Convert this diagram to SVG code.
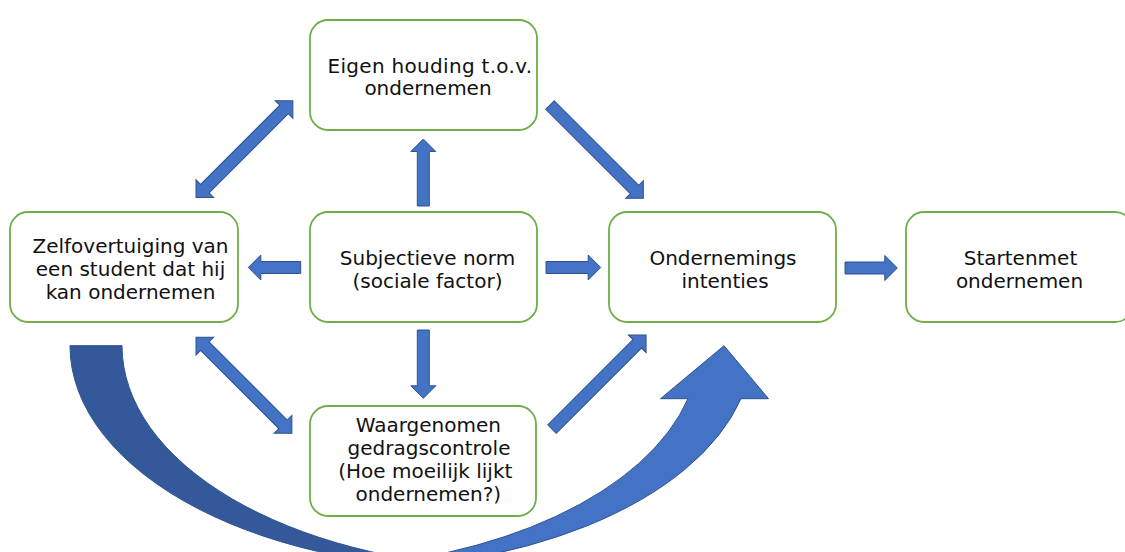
<svg xmlns="http://www.w3.org/2000/svg" width="1125" height="552" viewBox="0 0 1125 552">
<style>
.box{fill:#fff;stroke:#70AD47;stroke-width:1.8}
.lbl{font-family:"DejaVu Sans","Liberation Sans",sans-serif;font-size:20px;fill:#111;text-anchor:middle}
.arw{fill:#4472C4;stroke:#2F528F;stroke-width:1}
.dark{fill:#34599A;stroke:#2F528F;stroke-width:1}
</style>
<rect width="1125" height="552" fill="#fff"/>
<g id="connectors">
<path class="dark" d="M70,345.7 A403,223 0 0 0 499,568.2 A403,223 0 0 1 122,345.7 Z"/>
<path class="arw" d="M323.5,568.2 A403,223 0 0 0 741,398.7 L768.5,398.7 L724,345.7 L660.5,398.7 L688,398.7 A403,223 0 0 1 323.5,568.2 Z"/>
<path class="arw" transform="translate(196,197.5) rotate(-45)" d="M0,0 L12.5,-12.5 V-6 H124.5 V-12.5 L137,0 L124.5,12.5 V6 H12.5 V12.5 Z"/>
<path class="arw" transform="translate(550,105) rotate(45)" d="M0,-6 H119.5 V-12.5 L132,0 L119.5,12.5 V6 H0 Z"/>
<path class="arw" transform="translate(423.3,206) rotate(-90)" d="M0,-6 H54.5 V-12.5 L67,0 L54.5,12.5 V6 H0 Z"/>
<path class="arw" transform="translate(300.7,267.5) rotate(180)" d="M0,-6 H39.9 V-12.5 L52.4,0 L39.9,12.5 V6 H0 Z"/>
<path class="arw" transform="translate(546,267.5)" d="M0,-6 H42.2 V-12.5 L54.7,0 L42.2,12.5 V6 H0 Z"/>
<path class="arw" transform="translate(845,268)" d="M0,-6 H39.8 V-12.5 L52.3,0 L39.8,12.5 V6 H0 Z"/>
<path class="arw" transform="translate(423.3,330) rotate(90)" d="M0,-6 H55.8 V-12.5 L68.3,0 L55.8,12.5 V6 H0 Z"/>
<path class="arw" transform="translate(196,337.3) rotate(45)" d="M0,0 L12.5,-12.5 V-6 H123.1 V-12.5 L135.6,0 L123.1,12.5 V6 H12.5 V12.5 Z"/>
<path class="arw" transform="translate(552,429) rotate(-45)" d="M0,-6 H120.5 V-12.5 L133,0 L120.5,12.5 V6 H0 Z"/>
</g>
<g id="eigen-houding">
<rect class="box" x="310" y="20" width="227" height="110" rx="18"/>
<text class="lbl" x="430" y="73" letter-spacing="0.3">Eigen houding t.o.v.</text>
<text class="lbl" x="428" y="95">ondernemen</text>
</g>
<g id="zelfovertuiging">
<rect class="box" x="10" y="212" width="228" height="110" rx="18"/>
<text class="lbl" x="130.5" y="253">Zelfovertuiging van</text>
<text class="lbl" x="130.5" y="276">een student dat hij</text>
<text class="lbl" x="130.5" y="299">kan ondernemen</text>
</g>
<g id="subjectieve-norm">
<rect class="box" x="310" y="212" width="227" height="110" rx="18"/>
<text class="lbl" x="427.5" y="265">Subjectieve norm</text>
<text class="lbl" x="427.5" y="288">(sociale factor)</text>
</g>
<g id="ondernemings-intenties">
<rect class="box" x="609" y="212" width="227" height="110" rx="18"/>
<text class="lbl" x="723" y="265">Ondernemings</text>
<text class="lbl" x="725" y="288">intenties</text>
</g>
<g id="starten">
<rect class="box" x="906" y="212" width="227" height="110" rx="18"/>
<text class="lbl" x="1020.5" y="265">Startenmet</text>
<text class="lbl" x="1019.5" y="288">ondernemen</text>
</g>
<g id="waargenomen">
<rect class="box" x="310" y="406" width="226" height="110" rx="18"/>
<text class="lbl" x="428.3" y="432">Waargenomen</text>
<text class="lbl" x="429" y="455">gedragscontrole</text>
<text class="lbl" x="425.3" y="478">(Hoe moeilijk lijkt</text>
<text class="lbl" x="428.3" y="501">ondernemen?)</text>
</g>
</svg>
